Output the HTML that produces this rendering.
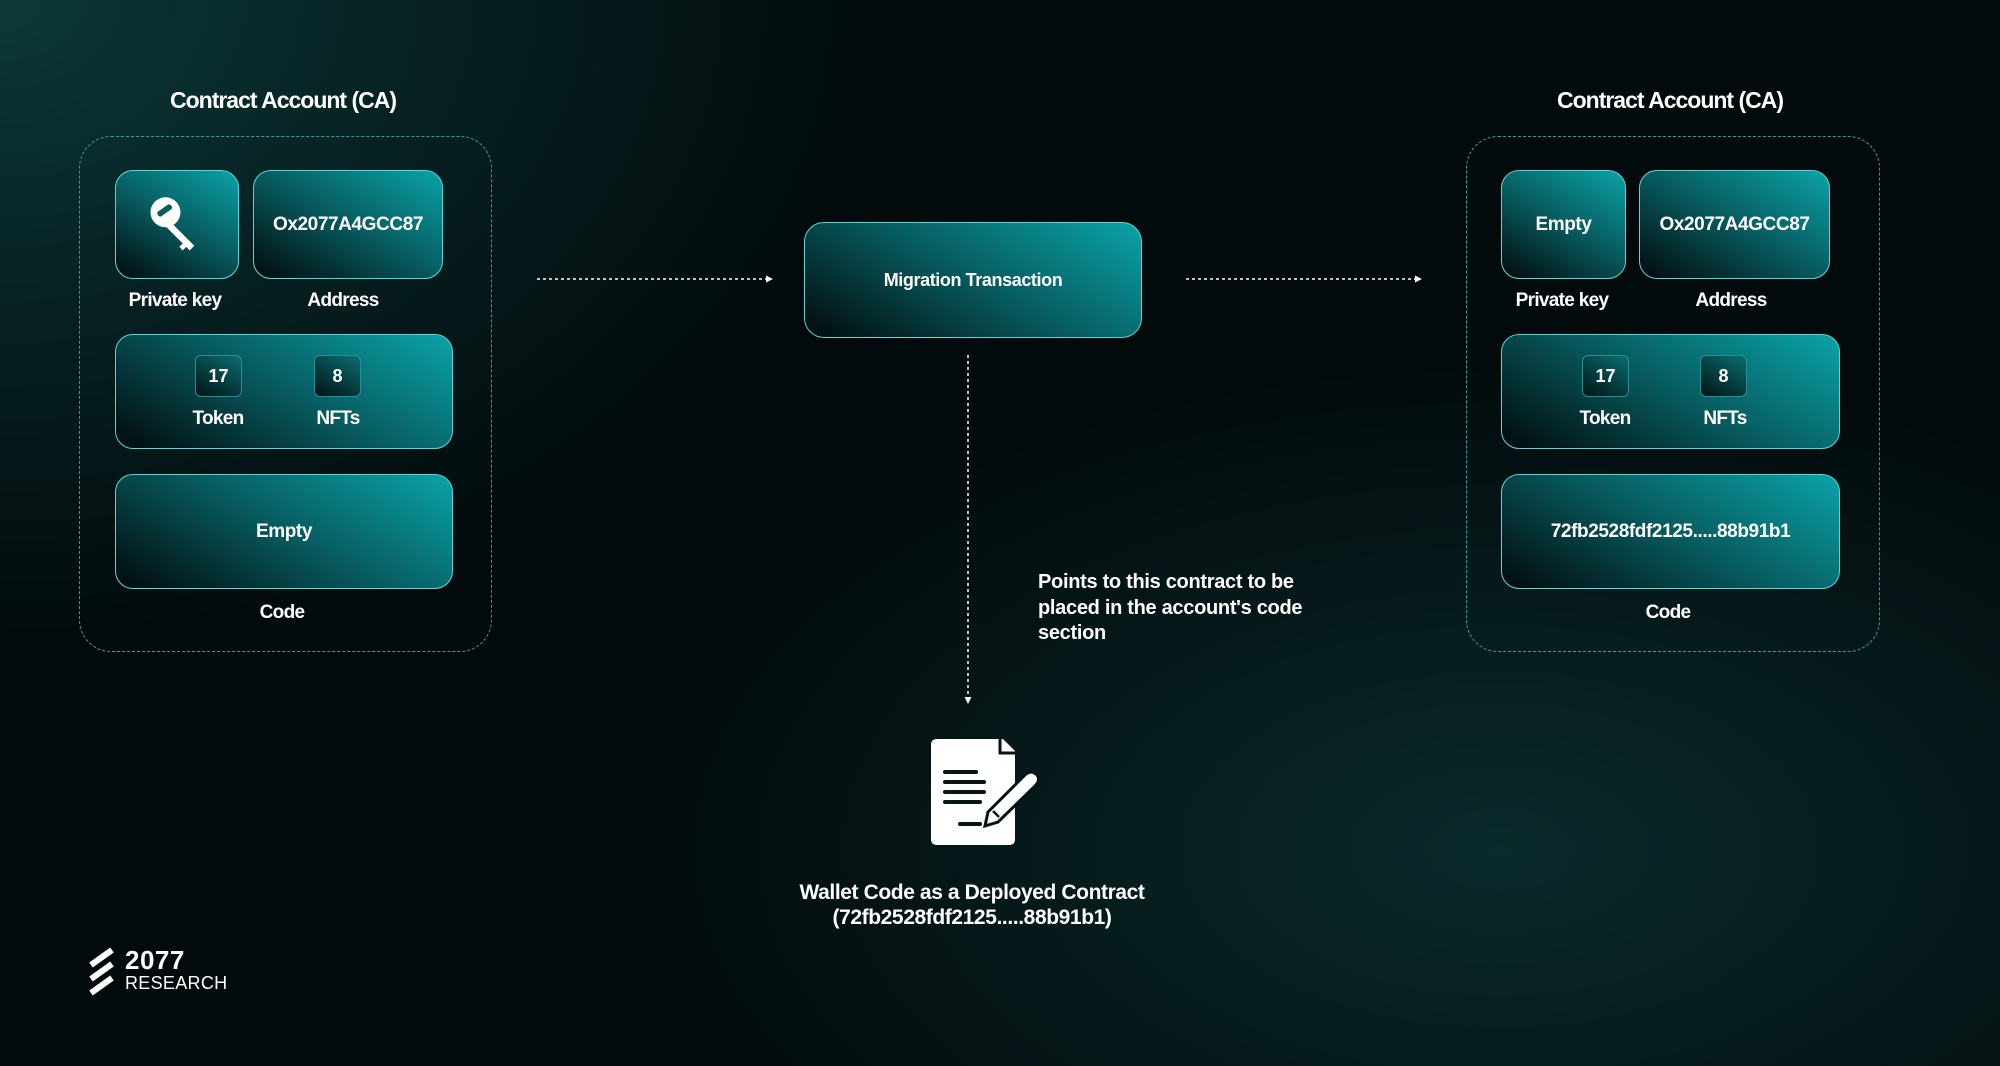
<!DOCTYPE html>
<html><head><meta charset="utf-8"><style>
*{margin:0;padding:0;box-sizing:border-box}
body{width:2000px;height:1066px;overflow:hidden;position:relative;font-family:"Liberation Sans",sans-serif;color:#fff;font-weight:bold;
background:radial-gradient(ellipse 900px 650px at 0px 0px,#0c3839 0%,#072223 45%,rgba(2,10,11,0) 100%),radial-gradient(ellipse 900px 500px at 1500px 850px,#0a2a2b 0%,rgba(3,12,13,0) 100%),#020a0b}
.a{position:absolute}
.outer{position:absolute;border:1.5px dashed #1fa6a8;border-radius:32px}
.box{position:absolute;border:1.5px solid #5ad6d6;border-radius:18px;background:linear-gradient(30deg,#021214 5%,#075a5e 50%,#0aa3a8 100%);display:flex;align-items:center;justify-content:center;font-size:19px;letter-spacing:-0.4px}
.sm{position:absolute;border:1px solid #2a8f92;border-radius:6px;background:linear-gradient(30deg,#021416,#0a6d71);display:flex;align-items:center;justify-content:center;font-size:18px}
.lbl{position:absolute;transform:translateX(-50%);white-space:nowrap;font-size:19px;letter-spacing:-0.7px}
.title{position:absolute;transform:translateX(-50%);white-space:nowrap;font-size:23px;letter-spacing:-1px}
</style></head><body>

<!-- Left CA -->
<div class="title" style="left:283px;top:87px">Contract Account (CA)</div>
<div class="outer" style="left:79px;top:136px;width:413px;height:516px"></div>
<div class="box" style="left:115px;top:170px;width:124px;height:109px">
<svg width="58" height="60" viewBox="0 0 50 52"><circle cx="15" cy="15" r="13" fill="#fff"/><rect x="7" y="11" width="14" height="5" rx="2" fill="#0a5a5e" transform="rotate(-35 14 13)"/><path d="M18 22 L40 44 L36 48 L33 45 L30 48 L27 45 L30 42 L14 26Z" fill="#fff"/></svg>
</div>
<div class="box" style="left:253px;top:170px;width:190px;height:109px">Ox2077A4GCC87</div>
<div class="lbl" style="left:175px;top:290px">Private key</div>
<div class="lbl" style="left:343px;top:290px">Address</div>
<div class="box" style="left:115px;top:334px;width:338px;height:115px"></div>
<div class="sm" style="left:195px;top:355px;width:47px;height:42px">17</div>
<div class="sm" style="left:314px;top:355px;width:47px;height:42px">8</div>
<div class="lbl" style="left:218px;top:408px">Token</div>
<div class="lbl" style="left:338px;top:408px">NFTs</div>
<div class="box" style="left:115px;top:474px;width:338px;height:115px">Empty</div>
<div class="lbl" style="left:282px;top:602px">Code</div>

<!-- Right CA -->
<div class="title" style="left:1670px;top:87px">Contract Account (CA)</div>
<div class="outer" style="left:1466px;top:136px;width:414px;height:516px"></div>
<div class="box" style="left:1501px;top:170px;width:125px;height:109px">Empty</div>
<div class="box" style="left:1639px;top:170px;width:191px;height:109px">Ox2077A4GCC87</div>
<div class="lbl" style="left:1562px;top:290px">Private key</div>
<div class="lbl" style="left:1731px;top:290px">Address</div>
<div class="box" style="left:1501px;top:334px;width:339px;height:115px"></div>
<div class="sm" style="left:1582px;top:355px;width:47px;height:42px">17</div>
<div class="sm" style="left:1700px;top:355px;width:47px;height:42px">8</div>
<div class="lbl" style="left:1605px;top:408px">Token</div>
<div class="lbl" style="left:1725px;top:408px">NFTs</div>
<div class="box" style="left:1501px;top:474px;width:339px;height:115px">72fb2528fdf2125.....88b91b1</div>
<div class="lbl" style="left:1668px;top:602px">Code</div>

<!-- Migration -->
<div class="box" style="left:804px;top:222px;width:338px;height:116px;border-radius:20px;font-size:18px">Migration Transaction</div>

<svg class="a" style="left:0;top:0" width="2000" height="1066">
<g stroke="#fff" stroke-width="1.5" stroke-dasharray="3 3" fill="none">
<line x1="537" y1="279" x2="768" y2="279"/>
<line x1="1186" y1="279" x2="1417" y2="279"/>
<line x1="968" y1="355" x2="968" y2="698"/>
</g>
<g fill="#fff">
<path d="M773 279 L766 275.5 L766 282.5Z"/>
<path d="M1422 279 L1415 275.5 L1415 282.5Z"/>
<path d="M968 704 L964.5 697 L971.5 697Z"/>
<path d="M937 739 L1003 739 L1015 751 L1015 839 Q1015 845 1009 845 L937 845 Q931 845 931 839 L931 745 Q931 739 937 739Z"/>
</g>
<path d="M1000 739 L1000 753 L1015 753" stroke="#071516" stroke-width="3" fill="none"/>
<g stroke="#071516" stroke-width="4" stroke-linecap="round">
<line x1="945" y1="772" x2="976" y2="772"/><line x1="945" y1="782" x2="984" y2="782"/>
<line x1="945" y1="792" x2="984" y2="792"/><line x1="945" y1="802" x2="980" y2="802"/>
<line x1="960" y1="824" x2="980" y2="824"/>
</g>
<path d="M988 812 L1025 775 Q1031 769 1037 775 Q1041 780 1035 786 L998 822 L985 826Z" fill="#fff" stroke="#071516" stroke-width="3"/>
<path d="M993 811 L999 817" stroke="#071516" stroke-width="2.5"/>
<g stroke="#fff" stroke-width="6" stroke-linecap="butt">
<line x1="91" y1="965" x2="112" y2="950"/><line x1="91" y1="979" x2="112" y2="964"/><line x1="91" y1="993" x2="112" y2="978"/>
</g>
</svg>

<div class="a" style="left:1038px;top:570px;font-size:20px;line-height:25.5px;letter-spacing:-0.3px">Points to this contract to be<br>placed in the account's code<br>section</div>
<div class="lbl" style="left:972px;top:880px;font-size:21px;line-height:25px;text-align:center;letter-spacing:-0.4px">Wallet Code as a Deployed Contract<br>(72fb2528fdf2125.....88b91b1)</div>

<div class="a" style="left:125px;top:947px;font-size:26px;line-height:26px;letter-spacing:0.5px">2077</div>
<div class="a" style="left:125px;top:974px;font-size:18px;line-height:18px;font-weight:normal;letter-spacing:0.3px">RESEARCH</div>
</body></html>
